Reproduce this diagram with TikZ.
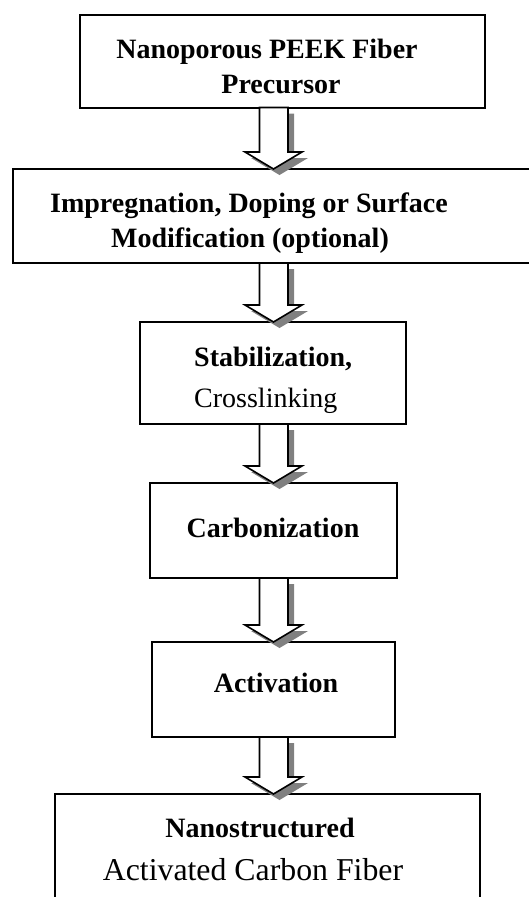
\documentclass[tikz,border=0pt]{standalone}
\usepackage{fontspec}
\setmainfont{Liberation Serif}
\usetikzlibrary{calc}
\definecolor{shadowgray}{RGB}{128,128,128}
\tikzset{
  box/.style={draw=black, line width=2pt, fill=white, inner sep=0pt, outer sep=0pt, rectangle},
  btxt/.style={font=\fontsize{28}{34}\selectfont\bfseries, inner sep=0pt, anchor=base},
  rtxt/.style={font=\fontsize{28}{34}\selectfont, inner sep=0pt, anchor=base},
  bigtxt/.style={font=\fontsize{31.8}{38}\selectfont, inner sep=0pt, anchor=base},
  arrowbody/.style={draw=black, line width=1.6pt, fill=white, line join=miter},
  arrowshadow/.style={fill=shadowgray},
}
\newcommand\flowarrow[2]{%
  \fill[arrowshadow] let \p1=(#1.south), \p2=(#2.north) in
    ({265.5pt},{\y1-6pt}) -- ({265.5pt},{\y2+11pt}) -- ({251pt},{\y2+11pt}) --
    ({279.5pt},{\y2-6pt}) -- ({308pt},{\y2+11pt}) -- ({294pt},{\y2+11pt}) --
    ({294pt},{\y1-6pt}) -- cycle;
  \filldraw[arrowbody] let \p1=(#1.south), \p2=(#2.north) in
    ({259.5pt},{\y1}) -- ({259.5pt},{\y2+17pt}) -- ({245pt},{\y2+17pt}) --
    ({273.5pt},{\y2}) -- ({302pt},{\y2+17pt}) -- ({288pt},{\y2+17pt}) --
    ({288pt},{\y1}) -- cycle;
}
\begin{document}
\begin{tikzpicture}[x=1pt,y=-1pt]
\clip (0,0) rectangle (529,897);
\fill[white] (0,0) rectangle (529,897);
% boxes
\node[box, minimum width=405pt, minimum height=93pt]  (b1) at (282.5,61) {};
\node[box, minimum width=527pt, minimum height=94pt]  (b2) at (276.5,216) {};
\node[box, minimum width=266pt, minimum height=102pt] (b3) at (273,373) {};
\node[box, minimum width=247pt, minimum height=95pt]  (b4) at (273.5,530.5) {};
\node[box, minimum width=243pt, minimum height=95pt]  (b5) at (273.5,689.5) {};
\node[box, minimum width=425pt, minimum height=126pt] (b6) at (267.5,857) {};
% texts
\node[btxt] (t1a) at (267,58) {Nanoporous PEEK Fiber};
\node[btxt] (t1b) at (281,93) {Precursor};
\node[btxt] (t2a) at (249,212) {Impregnation, Doping or Surface};
\node[btxt] (t2b) at (250,247) {Modification (optional)};
\node[btxt, anchor=base west] (t3a) at (194,366) {Stabilization,};
\node[rtxt, anchor=base west] (t3b) at (194,407) {Crosslinking};
\node[btxt] (t4) at (273,537) {Carbonization};
\node[btxt] (t5) at (276,692) {Activation};
\node[btxt] (t6a) at (260,837) {Nanostructured};
\node[bigtxt] (t6b) at (253,880) {Activated Carbon Fiber};
% arrows
\flowarrow{b1}{b2}
\flowarrow{b2}{b3}
\flowarrow{b3}{b4}
\flowarrow{b4}{b5}
\flowarrow{b5}{b6}
\end{tikzpicture}
\end{document}
